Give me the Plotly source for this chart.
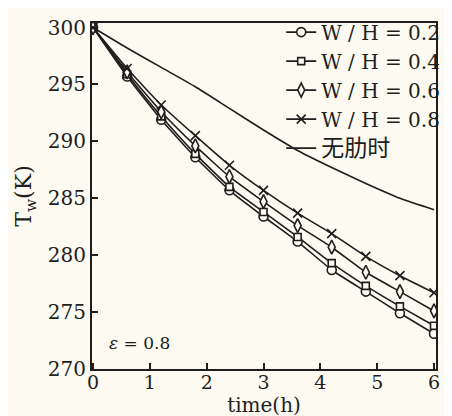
import plotly.graph_objects as go

time_h = [0, 0.6, 1.2, 1.8, 2.4, 3.0, 3.6, 4.2, 4.8, 5.4, 6.0]
tw_wh02 = [300, 295.7, 291.9, 288.6, 285.7, 283.4, 281.2, 278.7, 276.8, 274.9, 273.1]
tw_wh04 = [300, 295.9, 292.2, 288.9, 286.0, 283.8, 281.6, 279.3, 277.3, 275.5, 273.8]
tw_wh06 = [300, 296.1, 292.6, 289.6, 286.9, 284.7, 282.6, 280.7, 278.5, 276.8, 275.1]
tw_wh08 = [300, 296.4, 293.2, 290.5, 287.9, 285.7, 283.7, 281.9, 279.9, 278.2, 276.7]
tw_nofin = [300, 298.2, 296.5, 294.8, 292.9, 291.0, 289.2, 287.7, 286.3, 285.0, 284.0]

series_names = ["W / H = 0.2", "W / H = 0.4", "W / H = 0.6", "W / H = 0.8"]
nofin_name = "无肋时"
x_ticks = [0, 1, 2, 3, 4, 5, 6]
y_ticks = [270, 275, 280, 285, 290, 295, 300]

BG = "#fcfaf1"
INK = "#1e1e1e"
SERIF = "DejaVu Serif"

fig = go.Figure()

symbols = ["circle", "square", "diamond-tall", "x-thin-open"]
sizes = [9, 7, 10, 9]
fills = [BG, BG, BG, INK]
for name, vals, sym, sz, fc in zip(series_names, [tw_wh02, tw_wh04, tw_wh06, tw_wh08], symbols, sizes, fills):
    fig.add_trace(go.Scatter(
        x=time_h, y=vals, name=name, mode="lines+markers",
        line=dict(color=INK, width=1.6, shape="spline", smoothing=0.4),
        marker=dict(symbol=sym, size=sz, color=fc, line=dict(color=INK, width=1.6)),
    ))

fig.add_trace(go.Scatter(
    x=time_h, y=tw_nofin, name="<span style='font-family:Noto Sans CJK SC;font-size:23px'>" + nofin_name + "</span>",
    mode="lines", line=dict(color=INK, width=1.6, shape="spline", smoothing=0.6),
))

fig.update_layout(
    width=452, height=416,
    margin=dict(l=84, r=24, t=15, b=55, autoexpand=False),
    paper_bgcolor=BG, plot_bgcolor=BG,
    font=dict(family=SERIF, color=INK, size=20),
    showlegend=True,
    legend=dict(
        x=0.55, y=1.03, xanchor="left", yanchor="top",
        bgcolor="rgba(0,0,0,0)", borderwidth=0,
        font=dict(family=SERIF, size=20, color=INK),
        tracegroupgap=0, itemwidth=30,
    ),
    annotations=[dict(
        x=0.045, y=0.075, xref="paper", yref="paper", xanchor="left", yanchor="middle",
        text="<i>ε</i> = 0.8", showarrow=False, font=dict(family=SERIF, size=17, color=INK),
    )],
)

fig.update_xaxes(
    range=[-0.018, 6.035], tickvals=x_ticks, ticks="inside", ticklen=6, tickwidth=1.5,
    tickcolor=INK, showline=True, linecolor=INK, linewidth=2, mirror=True,
    showgrid=False, zeroline=False, ticklabelstandoff=-5,
    tickfont=dict(family=SERIF, size=19),
    title=dict(text="time(h)", font=dict(family=SERIF, size=20), standoff=0),
)
fig.update_yaxes(
    range=[270, 300.4], tickvals=y_ticks, ticks="inside", ticklen=6, tickwidth=1.5,
    tickcolor=INK, showline=True, linecolor=INK, linewidth=2, mirror=True,
    showgrid=False, zeroline=False,
    tickfont=dict(family=SERIF, size=20),
    title=dict(text="T<sub>w</sub>(K)", font=dict(family=SERIF, size=22), standoff=10),
)

fig.write_html("out.html")
